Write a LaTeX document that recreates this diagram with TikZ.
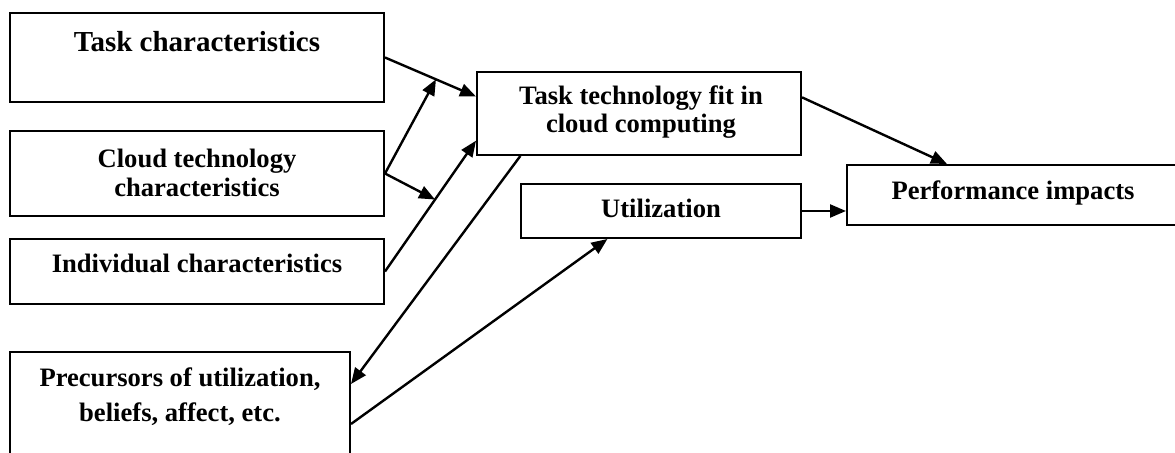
\documentclass[tikz,border=0pt]{standalone}
\usepackage{fontspec}
\setmainfont{Liberation Serif}
\usetikzlibrary{arrows.meta,fit,calc}
\begin{document}
\begin{tikzpicture}[x=0.5pt,y=-0.5pt,
  box/.style={draw, line width=1pt, inner sep=0pt},
  conn/.style={line width=1.2pt, -{Triangle[length=8pt,width=6.5pt]}},
  txt/.style={font=\fontsize{13.3}{14}\selectfont\bfseries, align=center, anchor=base, inner sep=0pt}]
\useasboundingbox (0,0) rectangle (1175,453);
\clip (0,0) rectangle (1175,453);
% boxes
\node[box, fit={(10,13)(384,102)}] (b1) {};
\node[box, fit={(10,131)(384,216)}] (b2) {};
\node[box, fit={(10,239)(384,304)}] (b3) {};
\node[box, fit={(10,352)(350,480)}] (b4) {};
\node[box, fit={(477,72)(801,155)}] (ttf) {};
\node[box, fit={(521,184)(801,238)}] (util) {};
\node[box, fit={(847,165)(1185,225)}] (perf) {};
% texts (anchor=base is the baseline of the last line)
\node[txt, font=\fontsize{14.5}{15}\selectfont\bfseries] (t1) at (197,52) {Task characteristics};
\node[txt, font=\fontsize{13.3}{14.5}\selectfont\bfseries] (t2) at (197,197) {Cloud technology\\characteristics};
\node[txt] (t3) at (197,273) {Individual characteristics};
\node[txt, font=\fontsize{13.3}{17.5}\selectfont\bfseries] (t4) at (180,422) {Precursors of utilization,\\beliefs, affect, etc.};
\node[txt] (t5) at (641,133) {Task technology fit in\\cloud computing};
\node[txt] (t6) at (661,218) {Utilization};
\node[txt] (t7) at (1013,200) {Performance impacts};
% connectors
\coordinate (e1) at ($(ttf.north west)!0.3!(ttf.south west)$);
\coordinate (e4) at ($(ttf.north west)!0.82!(ttf.south west)$);
\draw[conn] (b1.east) -- (e1);
\draw[conn] (b3.east) -- (e4);
\draw[conn] (b2.east) -- ($(b1.east)!0.56!(e1)$);
\draw[conn] (b2.east) -- ($(b3.east)!0.55!(e4)$);
\draw[conn] ($(ttf.south west)!0.136!(ttf.south east)$) -- ($(b4.north east)+(0,33)$);
\draw[conn] ($(b4.north east)+(0,73)$) -- ($(util.south west)!0.31!(util.south east)$);
\draw[conn] ($(ttf.north east)!0.31!(ttf.south east)$) -- ($(perf.north west)+(101,0)$);
\draw[conn] (util.east) -- (util.east -| perf.west);
\end{tikzpicture}
\end{document}
